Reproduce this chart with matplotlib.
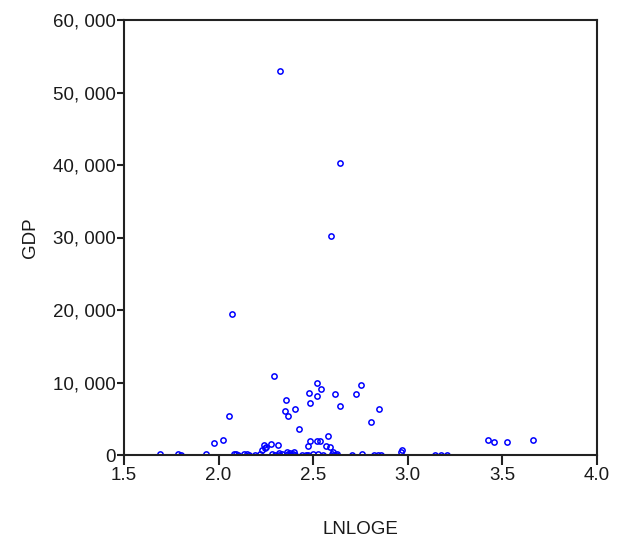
import matplotlib
matplotlib.use("Agg")
import matplotlib.pyplot as plt
from matplotlib.ticker import FuncFormatter

plt.rcParams['font.family'] = ['Liberation Sans', 'DejaVu Sans']

lnloge = [2.323, 2.642, 2.594, 2.070, 2.292, 2.053, 1.974, 2.022, 2.354, 2.352,
          2.365, 2.404, 2.425, 2.480, 2.482, 2.519, 2.519, 2.540, 2.613, 2.642,
          2.724, 2.755, 2.805, 2.849, 2.580, 2.521, 2.534, 2.482, 2.471, 2.569,
          2.590, 2.603, 2.277, 2.312, 2.241, 2.229, 3.426, 3.453, 3.526, 3.662,
          2.970, 2.966, 2.250, 2.245, 2.360, 2.400, 2.380, 2.320,
          1.692, 1.786, 1.800, 1.932, 2.079, 2.090, 2.100, 2.135, 2.150, 2.160,
          2.190, 2.220, 2.300, 2.320, 2.365, 2.380, 2.395, 2.405, 2.440, 2.460,
          2.475, 2.500, 2.525, 2.550, 2.610, 2.620, 2.705, 2.757, 2.820, 2.840,
          2.860, 3.144, 3.175, 3.206, 2.600, 2.625, 2.280, 2.335]
gdp = [53000, 40230, 30240, 19500, 10880, 5440, 1660, 2130, 7570, 6060,
       5350, 6290, 3550, 8520, 7240, 9940, 8190, 9130, 8420, 6720,
       8420, 9610, 4590, 6390, 2600, 1990, 1890, 1890, 1180, 1280,
       1090, 470, 1510, 1330, 1330, 710, 2130, 1750, 1750, 2040,
       710, 430, 1100, 900, 450, 420, 300, 250,
       100, 80, 30, 90, 120, 150, 60, 120, 90, 40,
       60, 100, 50, 60, 90, 30, 100, 50, 40, 30,
       60, 90, 80, 40, 60, 30, 50, 90, 40, 40,
       30, 50, 40, 30, 200, 150, 130, 170]

x_ticks = [1.5, 2.0, 2.5, 3.0, 3.5, 4.0]
y_ticks = [0, 10000, 20000, 30000, 40000, 50000, 60000]

fig = plt.figure(figsize=(6.37, 5.38), dpi=100)
ax = fig.add_axes([124/637, 83/538, 473/637, 435/538])

ax.plot(lnloge, gdp, linestyle='none', marker='o', markersize=3.8,
        markerfacecolor='none', markeredgecolor='#0000ff', markeredgewidth=1.1)

ax.set_xlim(1.5, 4.0)
ax.set_ylim(0, 60000)
ax.set_xticks(x_ticks)
ax.set_yticks(y_ticks)
ax.set_xticklabels([f"{v:.1f}" for v in x_ticks])
ax.yaxis.set_major_formatter(FuncFormatter(lambda v, p: f"{int(v):,}".replace(",", ", ")))

for s in ax.spines.values():
    s.set_linewidth(1.5)
    s.set_color('#222222')
ax.tick_params(axis='both', direction='out', width=1.5,
               labelsize=13.5, colors='#222222', labelcolor='#1a1a1a')
ax.tick_params(axis='y', length=5, pad=1)
ax.tick_params(axis='x', length=7, pad=2)

ax.set_xlabel('LNLOGE', fontsize=13.5, labelpad=26, color='#1a1a1a')
ax.set_ylabel('GDP', fontsize=13.5, labelpad=10, color='#1a1a1a')

fig.savefig('out.png', dpi=100)
